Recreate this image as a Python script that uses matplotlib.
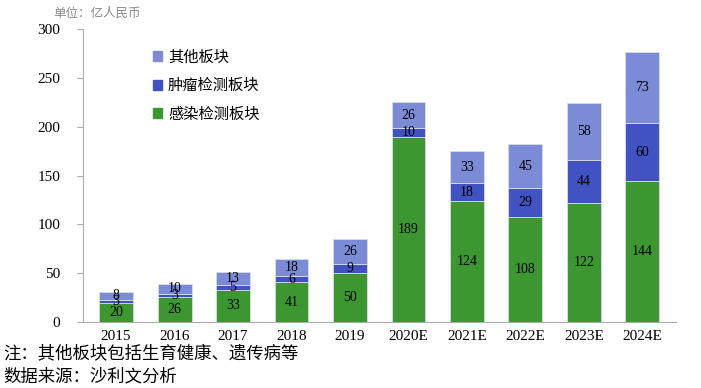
import numpy as np
import matplotlib.pyplot as plt
from matplotlib.patches import Patch

plt.rcParams['font.family'] = ['Liberation Serif', 'Noto Sans CJK SC']

years = ['2015', '2016', '2017', '2018', '2019', '2020E', '2021E', '2022E', '2023E', '2024E']
infect = [20, 26, 33, 41, 50, 189, 124, 108, 122, 144]
tumor = [3, 3, 5, 6, 9, 10, 18, 29, 44, 60]
other = [8, 10, 13, 18, 26, 26, 33, 45, 58, 73]

c_inf = '#3d9731'
c_tum = '#4153c2'
c_oth = '#7b8bd6'

fig = plt.figure(figsize=(7.01, 3.88), dpi=100)
ax = fig.add_axes([0.118, 0.170, 0.846, 0.755])

x = np.arange(len(years))
w = 0.58
infect = np.array(infect)
tumor = np.array(tumor)
other = np.array(other)

ax.bar(x, infect, w, color=c_inf, edgecolor='#d8dde8', linewidth=0.6)
ax.bar(x, tumor, w, bottom=infect, color=c_tum, edgecolor='#d8dde8', linewidth=0.6)
ax.bar(x, other, w, bottom=infect + tumor, color=c_oth, edgecolor='#d8dde8', linewidth=0.6)

# labels in the middle of each segment
for i in range(len(years)):
    ax.text(x[i], infect[i] / 2, str(infect[i]), ha='center', va='center', fontsize=10)
    ax.text(x[i], infect[i] + tumor[i] / 2, str(tumor[i]), ha='center', va='center', fontsize=10)
    ax.text(x[i], infect[i] + tumor[i] + other[i] / 2, str(other[i]), ha='center', va='center', fontsize=10)

ax.set_xlim(-0.57, len(years) - 0.43)
ax.set_ylim(0, 300)
ax.set_yticks(range(0, 301, 50))
ax.set_xticks(x)
ax.set_xticklabels(years)
ax.tick_params(axis='x', length=0, labelsize=11, pad=6)
ax.tick_params(axis='y', length=4, color='#aaaaaa', labelsize=11, pad=12)
for s in ['top', 'right']:
    ax.spines[s].set_visible(False)
ax.spines['left'].set_color('#aaaaaa')
ax.spines['bottom'].set_color('#aaaaaa')

handles = [Patch(color=c_oth), Patch(color=c_tum), Patch(color=c_inf)]
labels = ['其他板块', '肿瘤检测板块', '感染检测板块']
ax.legend(handles, labels, loc='upper left', bbox_to_anchor=(0.095, 0.975), frameon=False,
          fontsize=11, handlelength=0.6, handleheight=0.6, handletextpad=0.4, labelspacing=0.95)

fig.text(0.076, 0.965, '单位：亿人民币', fontsize=9, color='#888888', va='center')
fig.text(0.005, 0.088, '注：其他板块包括生育健康、遗传病等', fontsize=12.5, va='center')
fig.text(0.005, 0.028, '数据来源：沙利文分析', fontsize=12.5, va='center')

fig.savefig('out.png', dpi=100)
